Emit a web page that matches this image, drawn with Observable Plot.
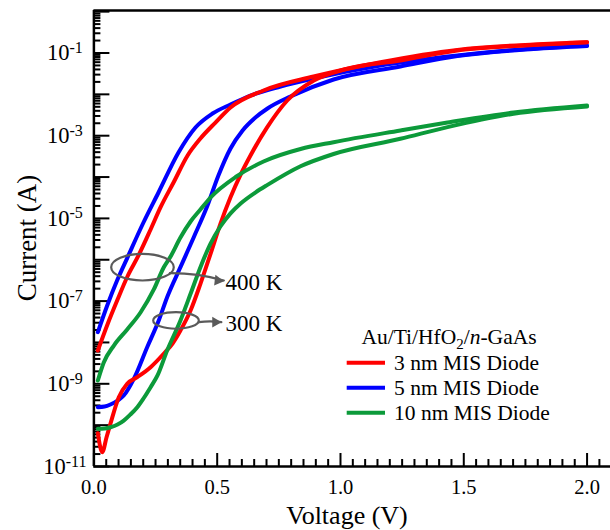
<!DOCTYPE html>
<html><head><meta charset="utf-8">
<script src="https://cdn.jsdelivr.net/npm/d3@7"></script>
<script src="https://cdn.jsdelivr.net/npm/@observablehq/plot@0.6"></script>
<style>
body{margin:0;background:#fff;}
#wrap{position:relative;width:610px;height:530px;}
#wrap svg, #wrap svg text{font-family:"Liberation Serif", "Times New Roman", serif;}
</style></head>
<body><div id="wrap"></div>
<script>
// ---- data (Voltage in V, Current in A) ----
const diodes = ["3 nm", "5 nm", "10 nm"];
const diodeLabels = ["3 nm MIS Diode", "5 nm MIS Diode", "10 nm MIS Diode"];
const diodeColors = ["#ff0000", "#0000ff", "#0c9a3a"];

const V_3nm_300K = [0.016,0.034,0.051,0.067,0.101,0.135,0.176,0.230,0.283,0.319,0.351,0.392,0.432,0.473,0.513,0.554,0.595,0.635,0.703,0.784,0.892,1.027,1.243,1.474,1.783,2.0];
const I_3nm_300K = [6.38e-11,2.22e-11,5.02e-11,1.08e-10,4.74e-10,1.0e-9,1.45e-9,2.52e-9,5.32e-9,9.44e-9,1.95e-8,5.93e-8,2.62e-7,1.39e-6,7.40e-6,3.26e-5,1.15e-4,3.32e-4,1.61e-3,7.10e-3,2.16e-2,4.15e-2,6.59e-2,0.115,0.156,0.182];

const V_3nm_400K = [0.016,0.055,0.096,0.136,0.181,0.230,0.270,0.323,0.380,0.432,0.493,0.554,0.688,0.891,1.162,1.474,1.783,2.0];
const I_3nm_400K = [6.38e-9,2.72e-8,1.09e-7,3.94e-7,1.27e-6,5.40e-6,1.84e-5,7.38e-5,3.32e-4,8.55e-4,2.08e-3,4.81e-3,1.24e-2,2.70e-2,6.0e-2,0.119,0.161,0.182];

const V_5nm_300K = [0.016,0.043,0.067,0.096,0.121,0.162,0.216,0.263,0.297,0.351,0.405,0.459,0.505,0.554,0.603,0.655,0.704,0.797,0.972,1.243,1.474,1.783,2.0];
const I_5nm_300K = [2.72e-10,2.82e-10,3.16e-10,3.94e-10,5.21e-10,1.32e-9,7.67e-9,3.40e-8,1.24e-7,6.61e-7,3.51e-6,1.94e-5,1.09e-4,4.90e-4,1.34e-3,2.75e-3,4.55e-3,8.87e-3,2.29e-2,4.72e-2,8.45e-2,0.125,0.148];

const V_5nm_400K = [0.016,0.054,0.094,0.136,0.201,0.262,0.343,0.412,0.481,0.554,0.635,0.757,0.891,1.162,1.474,1.783,2.0];
const I_5nm_400K = [1.77e-8,7.83e-8,3.15e-7,1.13e-6,7.96e-6,4.23e-5,3.93e-4,1.58e-3,3.44e-3,5.69e-3,9.38e-3,1.55e-2,2.42e-2,4.99e-2,8.71e-2,0.129,0.152];

const V_10nm_300K = [0.016,0.043,0.067,0.096,0.121,0.148,0.176,0.201,0.230,0.258,0.297,0.351,0.392,0.432,0.473,0.513,0.554,0.595,0.656,0.704,0.838,0.972,1.243,1.434,1.702,2.0];
const I_10nm_300K = [8.17e-11,8.30e-11,8.91e-11,1.04e-10,1.29e-10,1.81e-10,2.72e-10,4.41e-10,8.28e-10,1.59e-9,6.38e-9,3.40e-8,1.50e-7,6.61e-7,2.47e-6,6.37e-6,1.32e-5,2.29e-5,4.27e-5,6.46e-5,1.82e-4,3.61e-4,8.41e-4,1.61e-3,3.39e-3,5.08e-3];

const V_10nm_400K = [0.016,0.040,0.081,0.135,0.189,0.243,0.283,0.311,0.351,0.392,0.432,0.473,0.578,0.688,0.838,0.972,1.243,1.434,1.702,2.0];
const I_10nm_400K = [1.20e-9,3.27e-9,8.43e-9,2.06e-8,5.30e-8,1.91e-7,6.50e-7,1.20e-6,3.45e-6,8.41e-6,1.64e-5,3.20e-5,1.03e-4,2.38e-4,4.76e-4,6.97e-4,1.34e-3,2.08e-3,3.64e-3,5.38e-3];

// axis ticks
const xMajorTicks = [0, 0.5, 1.0, 1.5, 2.0];
const xTickLabels = ["0.0", "0.5", "1.0", "1.5", "2.0"];
const yMajorTicks = [1e-11,1e-10,1e-9,1e-8,1e-7,1e-6,1e-5,1e-4,1e-3,1e-2,1e-1,1];
const yLabelTicks = [1e-11, 1e-9, 1e-7, 1e-5, 1e-3, 1e-1];
const yTickExponents = ["-11", "-9", "-7", "-5", "-3", "-1"];

// annotations (data units)
const annoText = ["400 K", "300 K"];
const annoTextV = [0.534, 0.534];
const annoTextI = [2.86e-7, 2.83e-8];
const ellipseV = [0.197, 0.333];
const ellipseI = [6.61e-7, 3.40e-8];
const arrowV1 = [0.308, 0.425];
const arrowI1 = [4.73e-7, 3.09e-8];
const arrowV2 = [0.527, 0.517];
const arrowI2 = [3.15e-7, 3.09e-8];
const arrowAngle = [97, 90];

// ---- build tables ----
const seriesList = [
  {diode: "5 nm", temp: "400 K", V: V_5nm_400K, I: I_5nm_400K},
  {diode: "5 nm", temp: "300 K", V: V_5nm_300K, I: I_5nm_300K},
  {diode: "3 nm", temp: "400 K", V: V_3nm_400K, I: I_3nm_400K},
  {diode: "3 nm", temp: "300 K", V: V_3nm_300K, I: I_3nm_300K},
  {diode: "10 nm", temp: "400 K", V: V_10nm_400K, I: I_10nm_400K},
  {diode: "10 nm", temp: "300 K", V: V_10nm_300K, I: I_10nm_300K}
];
const rows = seriesList.flatMap(s => s.V.map((v, i) => ({V: v, I: s.I[i], diode: s.diode, key: s.diode + " " + s.temp})));

const xMinorTicks = d3.range(1, 42).map(k => k * 0.05).filter((v, i) => (i + 1) % 10 !== 0);
const yMinorTicks = d3.range(-11, 0).flatMap(d => d3.range(2, 10).map(m => m * Math.pow(10, d)));

const ellipses = ellipseV.map((v, i) => ({V: v, I: ellipseI[i]}));
const arrows = arrowV1.map((v, i) => ({V1: v, I1: arrowI1[i], V2: arrowV2[i], I2: arrowI2[i], a: arrowAngle[i]}));
const labels = annoText.map((t, i) => ({V: annoTextV[i], I: annoTextI[i], t}));

function ellipseSymbol(aspect) {
  return {draw(ctx, size) {
    const rx = Math.sqrt(size / Math.PI), ry = rx / aspect, k = 0.5523;
    ctx.moveTo(rx, 0);
    ctx.bezierCurveTo(rx, ry * k, rx * k, ry, 0, ry);
    ctx.bezierCurveTo(-rx * k, ry, -rx, ry * k, -rx, 0);
    ctx.bezierCurveTo(-rx, -ry * k, -rx * k, -ry, 0, -ry);
    ctx.bezierCurveTo(rx * k, -ry, rx, -ry * k, rx, 0);
    ctx.closePath();
  }};
}

const gray = "#5a5a5a";
const chart = Plot.plot({
  width: 610, height: 530,
  marginLeft: 93.4, marginRight: 0, marginTop: 10, marginBottom: 64,
  x: {domain: [0, 2.095]},
  y: {type: "log", domain: [1e-11, 1.066]},
  color: {domain: diodes, range: diodeColors},
  style: {fontFamily: "Liberation Serif, serif", background: "white", color: "black"},
  marks: [
    Plot.axisY(yMinorTicks, {tickSize: -7, strokeWidth: 2, fill: "none", label: null}),
    Plot.axisY(yMajorTicks, {tickSize: -16, strokeWidth: 2, fill: "none", label: null}),
    Plot.axisY(yLabelTicks, {tickSize: 0, tickPadding: 29, textAnchor: "middle", fontSize: 22.5,
      tickFormat: d => yTickExponents[yLabelTicks.indexOf(d)], label: null}),
    Plot.axisX(xMinorTicks, {tickSize: -7, strokeWidth: 2, fill: "none", label: null}),
    Plot.axisX(xMajorTicks, {tickSize: -13, strokeWidth: 2, fill: "none", label: null}),
    Plot.axisX(xMajorTicks, {tickSize: 0, tickPadding: 13, fontSize: 20.5,
      tickFormat: d => xTickLabels[xMajorTicks.indexOf(d)], label: null}),
    Plot.ruleX([0], {strokeWidth: 2.5}),
    Plot.ruleY([1e-11], {strokeWidth: 2.5}),
    Plot.ruleY([1.066], {strokeWidth: 2.5}),
    Plot.line(rows, {x: "V", y: "I", z: "key", stroke: "diode", strokeWidth: 4, curve: "monotone-x"}),
    Plot.dot(ellipses.slice(0, 1), {x: "V", y: "I", r: 31.3, symbol: ellipseSymbol(2.35), stroke: gray, strokeWidth: 2.2, fill: "none"}),
    Plot.dot(ellipses.slice(1, 2), {x: "V", y: "I", r: 22.8, symbol: ellipseSymbol(2.75), stroke: gray, strokeWidth: 2.2, fill: "none"}),
    Plot.arrow(arrows, {x1: "V1", y1: "I1", x2: "V2", y2: "I2", bend: 8, stroke: gray, strokeWidth: 2.2, headLength: 0}),
    Plot.dot(arrows, {x: "V2", y: "I2", symbol: "triangle", r: 4, rotate: "a", dx: -6, fill: gray, stroke: "none"}),
    Plot.text(labels, {x: "V", y: "I", text: "t", textAnchor: "start", fontSize: 23, fill: "black"})
  ]
});

const svg = d3.select(chart).attr("font-family", "Liberation Serif, serif");
// superscript exponents on y tick labels
svg.selectAll('g[aria-label="y-axis tick label"] text').each(function() {
  const t = d3.select(this);
  const e = t.text();
  t.text(null);
  t.append("tspan").text("10");
  t.append("tspan").attr("dy", "-0.45em").attr("font-size", "16px").text(e);
});
// axis titles
svg.append("text").attr("transform", "translate(27,238) rotate(-90)")
  .attr("text-anchor", "middle").attr("dominant-baseline", "central")
  .attr("font-size", 27).attr("fill", "black").text("Current (A)");
svg.append("text").attr("x", 347).attr("y", 515)
  .attr("text-anchor", "middle").attr("dominant-baseline", "central")
  .attr("font-size", 26).attr("fill", "black").text("Voltage (V)");
// legend
const lg = svg.append("g").attr("font-size", 21.5).attr("fill", "black").attr("text-anchor", "start");
const title = lg.append("text").attr("x", 449).attr("y", 344).attr("text-anchor", "middle");
title.append("tspan").text("Au/Ti/HfO");
title.append("tspan").attr("dy", 5).attr("font-size", 15).text("2");
title.append("tspan").attr("dy", -5).text("/");
title.append("tspan").attr("font-style", "italic").text("n");
title.append("tspan").text("-GaAs");
diodeLabels.forEach((lab, i) => {
  lg.append("line").attr("x1", 346.7).attr("x2", 385).attr("y1", 362.7 + 25 * i).attr("y2", 362.7 + 25 * i)
    .attr("stroke", diodeColors[i]).attr("stroke-width", 4);
  lg.append("text").attr("x", 394).attr("y", 369.5 + 25 * i).attr("text-anchor", "start").text(lab);
});

document.getElementById("wrap").appendChild(chart);
</script>
</body></html>
